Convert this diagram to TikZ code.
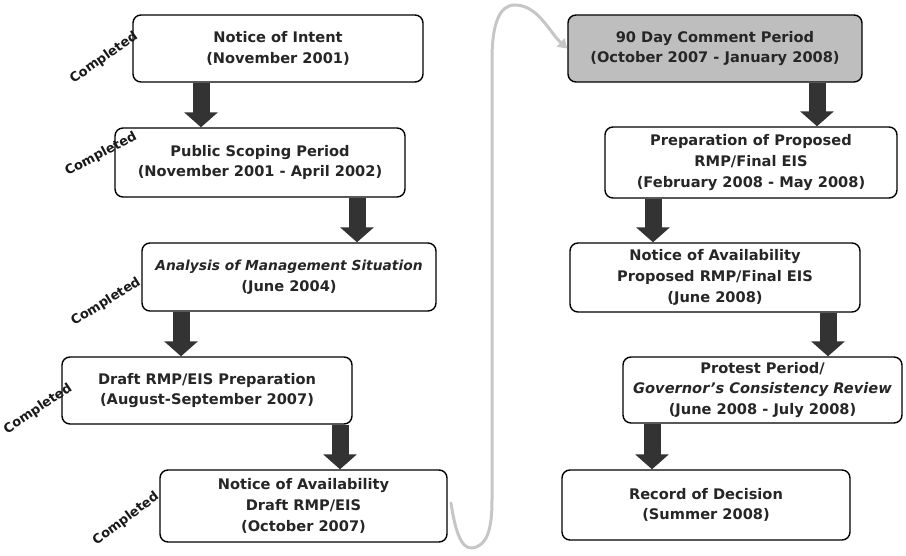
\documentclass[tikz,border=0pt]{standalone}
\usepackage{fontspec}
\setmainfont{DejaVu Sans}
\usetikzlibrary{arrows.meta}
\definecolor{arrowgray}{HTML}{333333}
\definecolor{linkgray}{HTML}{C6C6C6}
\definecolor{shadegray}{HTML}{BEBEBE}
\begin{document}
\begin{tikzpicture}[x=1pt,y=-1pt,
  stage/.style={draw=black, line width=1.4pt, rounded corners=8pt, fill=white,
    align=center, inner sep=0pt, text=black!85,
    font=\bfseries\fontsize{14.6}{20.8}\selectfont},
  flow/.style={draw=arrowgray, line width=17pt,
    -{Triangle[width=33pt,length=15pt]}},
  done/.style={font=\bfseries\fontsize{13}{15}\selectfont, inner sep=0pt, text=black!90},
  link/.style={draw=linkgray, line width=3pt, line cap=round,
    -{Triangle[width=11pt,length=9pt]}}]
\useasboundingbox (0,0) rectangle (906,555);

% left column
\node[stage, minimum width=290pt, minimum height=67pt] (b1) at (278,48.5)
  {Notice of Intent\\(November 2001)};
\node[stage, minimum width=290pt, minimum height=69pt] (b2) at (260,162.5)
  {Public Scoping Period\\(November 2001 - April 2002)};
\node[stage, minimum width=294pt, minimum height=68pt] (b3) at (289,277)
  {{\itshape\fontsize{13.8}{20.8}\selectfont Analysis of Management Situation}\\(June 2004)};
\node[stage, minimum width=290pt, minimum height=67pt] (b4) at (207,390.5)
  {Draft RMP/EIS Preparation\\(August-September 2007)};
\node[stage, minimum width=287pt, minimum height=72pt] (b5) at (303.5,506)
  {Notice of Availability\\Draft RMP/EIS\\(October 2007)};

% right column
\node[stage, fill=shadegray, minimum width=294pt, minimum height=67pt] (r1) at (715,48.5)
  {90 Day Comment Period\\(October 2007 - January 2008)};
\node[stage, minimum width=292pt, minimum height=71pt] (r2) at (751,162.5)
  {Preparation of Proposed\\RMP/Final EIS\\(February 2008 - May 2008)};
\node[stage, minimum width=290pt, minimum height=69pt] (r3) at (715,277.5)
  {Notice of Availability\\Proposed RMP/Final EIS\\(June 2008)};
\node[stage, minimum width=279pt, minimum height=66pt] (r4) at (762.5,390)
  {Protest Period/\\{\itshape Governor's Consistency Review}\\(June 2008 - July 2008)};
\node[stage, minimum width=288pt, minimum height=70pt] (r5) at (706,505)
  {Record of Decision\\(Summer 2008)};

% columns where the block arrows run
\coordinate (xa) at (201,0);
\coordinate (xb) at (357,0);
\coordinate (xc) at (181,0);
\coordinate (xd) at (340,0);
\coordinate (xe) at (817,0);
\coordinate (xf) at (653,0);
\coordinate (xg) at (828,0);
\coordinate (xh) at (652,0);

\draw[flow] (b1.south -| xa) -- (b2.north -| xa);
\draw[flow] (b2.south -| xb) -- (b3.north -| xb);
\draw[flow] (b3.south -| xc) -- (b4.north -| xc);
\draw[flow] (b4.south -| xd) -- (b5.north -| xd);
\draw[flow] (r1.south -| xe) -- (r2.north -| xe);
\draw[flow] (r2.south -| xf) -- (r3.north -| xf);
\draw[flow] (r3.south -| xg) -- (r4.north -| xg);
\draw[flow] (r4.south -| xh) -- (r5.north -| xh);

% hand-drawn link from the end of the left column to the right column
\coordinate (hook) at (451,503);
\draw[link] (hook) .. controls (455,530) and (461,549) .. (472,548)
  .. controls (487,546) and (492,530) .. (492,500)
  -- (492,60)
  .. controls (492,22) and (500,5) .. (515,5)
  .. controls (538,5) and (550,33) .. (r1.west);

% status notes
\node[done, rotate=35] (c1) at (104,58) {Completed};
\node[done, rotate=28] (c2) at (101,154) {Completed};
\node[done, rotate=32] (c3) at (106,302) {Completed};
\node[done, rotate=34] (c4) at (38,409) {Completed};
\node[done, rotate=37] (c5) at (126,519) {Completed};
\end{tikzpicture}
\end{document}
